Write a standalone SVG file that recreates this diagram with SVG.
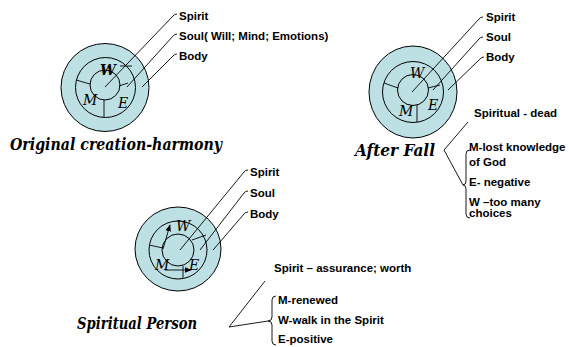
<svg xmlns="http://www.w3.org/2000/svg" width="569" height="347" viewBox="0 0 569 347">
<style>
.ring{fill:#bce0e3;stroke:#000;stroke-width:1}
.ln{fill:none;stroke:#000;stroke-width:0.9}
.lbl{font-family:"Liberation Sans",Arial,sans-serif;font-weight:bold;font-size:11.5px;fill:#000}
.ttl{font-family:"DejaVu Serif",serif;font-style:italic;font-weight:bold;font-size:16px;fill:#000}
.scr{font-family:"DejaVu Serif",serif;font-style:italic;font-size:14px;fill:#000}
</style>
<defs>
<marker id="ah" viewBox="0 0 10 10" refX="9" refY="5" markerWidth="7" markerHeight="7" orient="auto" markerUnits="userSpaceOnUse">
<path d="M0 1 L10 5 L0 9 Z" fill="#000"/>
</marker>
</defs>

<g id="original">
<circle class="ring" cx="105" cy="87.5" r="44"/>
<circle class="ring" cx="105.5" cy="87.5" r="30"/>
<circle class="ring" cx="105" cy="85" r="15"/>
<path class="ln" d="M120 66 H132 M76 80 L90 84 M104 100 V117 M119 86 L128 83"/>
<text class="scr" x="100" y="75" font-weight="bold">W</text>
<text class="scr" x="83" y="105">M</text>
<text class="scr" x="118" y="108">E</text>
<text class="lbl" x="179" y="20">Spirit</text>
<text class="lbl" x="179" y="40">Soul( Will; Mind; Emotions)</text>
<text class="lbl" x="179" y="60">Body</text>
<text class="ttl" x="10" y="150" textLength="212" lengthAdjust="spacingAndGlyphs">Original creation-harmony</text>
</g>

<g id="afterfall">
<ellipse class="ring" cx="413" cy="92" rx="44" ry="46"/>
<circle class="ring" cx="413" cy="92" r="30.5"/>
<circle class="ring" cx="413" cy="90" r="15.5"/>
<path class="ln" d="M384 83 L398 88 M428 88 L440 85 M417 105 V122"/>
<text class="scr" x="410" y="78">W</text>
<text class="scr" x="399" y="116">M</text>
<text class="scr" x="428" y="110">E</text>
<text class="lbl" x="486" y="20.5">Spirit</text>
<text class="lbl" x="486" y="40.5">Soul</text>
<text class="lbl" x="486" y="60.5">Body</text>
<text class="ttl" x="355" y="156" textLength="80" lengthAdjust="spacingAndGlyphs">After Fall</text>
<text class="lbl" x="474" y="116.5">Spiritual - dead</text>
<text class="lbl" x="469" y="150.5">M-lost knowledge</text>
<text class="lbl" x="469" y="165.5">of God</text>
<text class="lbl" x="469" y="185.5">E- negative</text>
<text class="lbl" x="469" y="205.5">W –too many</text>
<text class="lbl" x="469" y="216.5">choices</text>
</g>

<g id="spiritual">
<ellipse class="ring" cx="178" cy="249" rx="43" ry="42"/>
<circle class="ring" cx="178" cy="250" r="29"/>
<circle class="ring" cx="178" cy="250" r="16"/>
<path class="ln" d="M149 245 L163 248 M192 240 L206 235 M183 266 V278"/>
<text class="scr" x="176" y="231">W</text>
<text class="scr" x="155" y="270">M</text>
<text class="scr" x="189" y="270">E</text>
<text class="lbl" x="250" y="176">Spirit</text>
<text class="lbl" x="250" y="197">Soul</text>
<text class="lbl" x="250" y="218">Body</text>
<text class="ttl" x="77" y="329" textLength="120" lengthAdjust="spacingAndGlyphs">Spiritual Person</text>
<text class="lbl" x="274" y="272">Spirit – assurance; worth</text>
<text class="lbl" x="278" y="304">M-renewed</text>
<text class="lbl" x="278" y="324">W-walk in the Spirit</text>
<text class="lbl" x="278" y="343">E-positive</text>
</g>

<g id="connectors">
<path class="ln" d="M105 87 L173 16 Q174.5 14 177 14"/>
<path class="ln" d="M127 87 L173 36 Q174.5 34 177 34"/>
<path class="ln" d="M142 87 L173 56 Q174.5 54 177 54"/>
<path class="ln" d="M412 92 L479 19 Q480.5 17 483 17"/>
<path class="ln" d="M433 90 L479 39 Q480.5 37 483 37"/>
<path class="ln" d="M448 90 L480 59 Q481.5 57 484 57"/>
<path class="ln" d="M468 122 L444 150 L463 185"/>
<path class="ln" d="M470 150 Q466 150 466 154 L466 181 Q466 185 463 185 Q466 185 466 189 L466 214 Q466 218 470 218"/>
<path class="ln" d="M180 250 L244 172 Q245.5 170 248 170"/>
<path class="ln" d="M200 250 L244 193 Q245.5 191 248 191"/>
<path class="ln" d="M213 250 L244 214 Q245.5 212 248 212"/>
<path class="ln" d="M163 249 L170 225" marker-end="url(#ah)"/>
<path class="ln" d="M165 270 L191 270" marker-end="url(#ah)"/>
<path class="ln" d="M265 281 L229 327 L268 321"/>
<path class="ln" d="M276 296 Q272 296 272 300 L272 317 Q272 321 268 321 Q272 321 272 325 L272 341 Q272 345 276 345"/>
</g>
</svg>
